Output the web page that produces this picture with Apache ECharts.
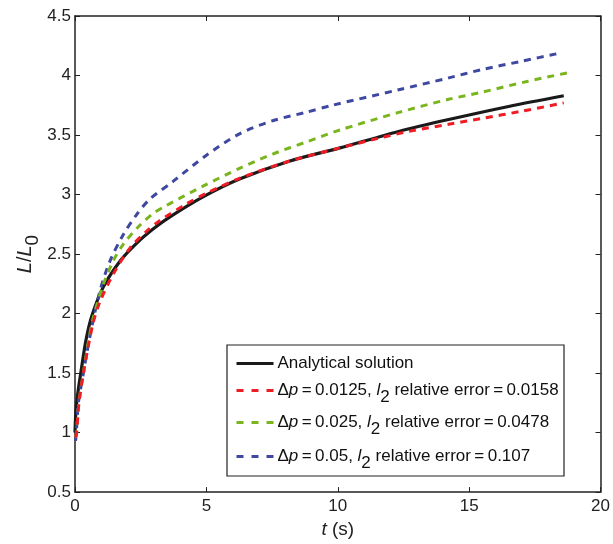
<!DOCTYPE html>
<html><head><meta charset="utf-8">
<script src="https://cdn.jsdelivr.net/npm/echarts@6/dist/echarts.min.js"></script>
<style>html,body{margin:0;padding:0;background:#fff}#c{width:613px;height:544px}</style>
</head><body><div id="c"></div>
<script>
// ---- data ----
const xTicks = [0, 5, 10, 15, 20];
const yTicks = [0.5, 1, 1.5, 2, 2.5, 3, 3.5, 4, 4.5];

const tAnalytical = [0, 0.02, 0.05, 0.1, 0.22, 0.42, 0.64, 1.07, 1.71, 2.34, 2.97, 3.6, 4.87, 6.26, 8.15, 10.05, 12.32, 14.22, 16.5, 18.6];
const LAnalytical = [1.0, 1.12, 1.22, 1.32, 1.5, 1.78, 1.98, 2.22, 2.44, 2.59, 2.71, 2.81, 2.98, 3.13, 3.28, 3.39, 3.53, 3.63, 3.74, 3.83];

const tDp0125 = [0.02, 0.06, 0.15, 0.32, 0.5, 0.7, 0.95, 1.45, 2.09, 2.72, 3.22, 4.23, 5.0, 6.3, 8.15, 10.05, 11.5, 12.7, 14.22, 15.5, 17, 18.6];
const LDp0125 = [0.96, 1.0, 1.25, 1.5, 1.72, 1.93, 2.1, 2.33, 2.55, 2.69, 2.78, 2.92, 3.01, 3.14, 3.28, 3.39, 3.47, 3.53, 3.59, 3.64, 3.7, 3.77];

const tDp025 = [0.02, 0.06, 0.15, 0.32, 0.5, 0.7, 1.07, 1.45, 1.83, 2.46, 2.97, 3.41, 4.87, 6.26, 7.52, 8.78, 10.05, 12.32, 14.22, 15.48, 17.2, 18.9];
const LDp025 = [0.96, 1.0, 1.25, 1.5, 1.75, 1.97, 2.24, 2.44, 2.58, 2.74, 2.84, 2.9, 3.07, 3.22, 3.34, 3.44, 3.54, 3.69, 3.8, 3.86, 3.95, 4.03];

const tDp05 = [0.02, 0.05, 0.13, 0.32, 0.57, 0.95, 1.33, 1.83, 2.34, 2.84, 3.73, 5.0, 6.26, 7.52, 8.78, 9.79, 12.32, 14.22, 15.48, 17, 18.49];
const LDp05 = [0.93, 1.0, 1.25, 1.5, 1.81, 2.19, 2.44, 2.66, 2.83, 2.96, 3.11, 3.33, 3.51, 3.62, 3.69, 3.75, 3.88, 3.98, 4.05, 4.12, 4.19];

const seriesNames = ['Analytical solution', 'dp=0.0125', 'dp=0.025', 'dp=0.05'];
const legendTexts = [
  '{n|Analytical solution}',
  '{n|\u0394}{i|p}{n|\u2009=\u20090.0125, }{i|l}{s|2}{n| relative error\u2009=\u20090.0158}',
  '{n|\u0394}{i|p}{n|\u2009=\u20090.025, }{i|l}{s|2}{n| relative error\u2009=\u20090.0478}',
  '{n|\u0394}{i|p}{n|\u2009=\u20090.05, }{i|l}{s|2}{n| relative error\u2009=\u20090.107}'
];
const colors = ['#1a1a1a', '#ee1c24', '#7ab51d', '#3f48a0'];

// ---- build ----
const zip = (a, b) => a.map((v, i) => [v, b[i]]);
const FONT = 'Liberation Sans, Arial, Helvetica, sans-serif';
const richLegend = {
  n: {fontSize: 17, fontFamily: FONT, color: '#111', lineHeight: 30},
  i: {fontSize: 17, fontFamily: FONT, fontStyle: 'italic', color: '#111', lineHeight: 30},
  s: {fontSize: 17, fontFamily: FONT, color: '#111', lineHeight: 30, verticalAlign: 'bottom'}
};
const legendCenters = [362, 389, 421, 455];

const chart = echarts.init(document.getElementById('c'), null, {renderer: 'canvas'});
const axisLineStyle = {color: '#222', width: 1.5};
const mkX = (pos, show) => ({
  type: 'value', position: pos, min: 0, max: 20, interval: 5,
  axisLine: {show: true, onZero: false, lineStyle: axisLineStyle},
  axisTick: {show: true, inside: true, length: 5, lineStyle: {color: '#222', width: 1}},
  axisLabel: {show: show, fontSize: 17, fontFamily: FONT, color: '#222', margin: 6},
  splitLine: {show: false}
});
const mkY = (pos, show) => ({
  type: 'value', position: pos, min: 0.5, max: 4.5, interval: 0.5,
  axisLine: {show: true, onZero: false, lineStyle: axisLineStyle},
  axisTick: {show: true, inside: true, length: 5, lineStyle: {color: '#222', width: 1}},
  axisLabel: {show: show, fontSize: 17, fontFamily: FONT, color: '#222', margin: 4,
    formatter: v => String(v)},
  splitLine: {show: false}
});
const xb = mkX('bottom', true);
xb.name = '{i|t}{n| (s)}';
xb.nameLocation = 'middle';
xb.nameGap = 17;
xb.nameTextStyle = {rich: {
  i: {fontSize: 19, fontFamily: FONT, fontStyle: 'italic', color: '#222'},
  n: {fontSize: 19, fontFamily: FONT, color: '#222'}}};
const yl = mkY('left', true);
yl.name = '{i|L}{n|/}{i|L}{s|0}';
yl.nameLocation = 'middle';
yl.nameRotate = 90;
yl.nameGap = 33;
yl.nameMoveOverlap = false;
yl.nameTextStyle = {rich: {
  i: {fontSize: 20, fontFamily: FONT, fontStyle: 'italic', color: '#222', lineHeight: 34},
  n: {fontSize: 20, fontFamily: FONT, color: '#222', lineHeight: 34},
  s: {fontSize: 19, fontFamily: FONT, color: '#222', lineHeight: 34, verticalAlign: 'bottom'}}};

const dataSets = [zip(tAnalytical, LAnalytical), zip(tDp0125, LDp0125), zip(tDp025, LDp025), zip(tDp05, LDp05)];
const lineStyles = colors.map((c, k) => k === 0
  ? {color: c, width: 3.2, type: 'solid'}
  : {color: c, width: 3, type: [7, 6], cap: 'butt'});
const series = dataSets.map((d, k) => ({
  name: seriesNames[k], type: 'line', data: d, showSymbol: false, symbol: 'none',
  smooth: 0.3,
  xAxisIndex: 0, yAxisIndex: 0, z: k === 0 ? 2 : 3 + (3 - k),
  lineStyle: lineStyles[k],
  itemStyle: {color: colors[k]},
  animation: false
}));

const legends = seriesNames.map((nm, k) => ({
  data: [nm], orient: 'vertical', left: 235, top: legendCenters[k] - 7, padding: 0,
  itemWidth: 37, itemHeight: 14, itemGap: 0, z: 10, selectedMode: false,
  itemStyle: {opacity: 0, borderWidth: 0},
  lineStyle: {color: colors[k], width: 3, type: k === 0 ? 'solid' : [7, 8], cap: 'butt'},
  formatter: () => legendTexts[k],
  textStyle: {rich: richLegend, padding: [0, 0, 0, -1]}
}));

chart.setOption({
  animation: false,
  backgroundColor: '#fff',
  grid: {left: 75, right: 10.5, top: 16, bottom: 47},
  xAxis: [xb, mkX('top', false)],
  yAxis: [yl, mkY('right', false)],
  legend: legends,
  graphic: [{type: 'rect', z: 5, shape: {x: 227, y: 345, width: 337, height: 131},
    style: {fill: '#fff', stroke: '#222', lineWidth: 1.2}}],
  series: series
});
</script></body></html>
